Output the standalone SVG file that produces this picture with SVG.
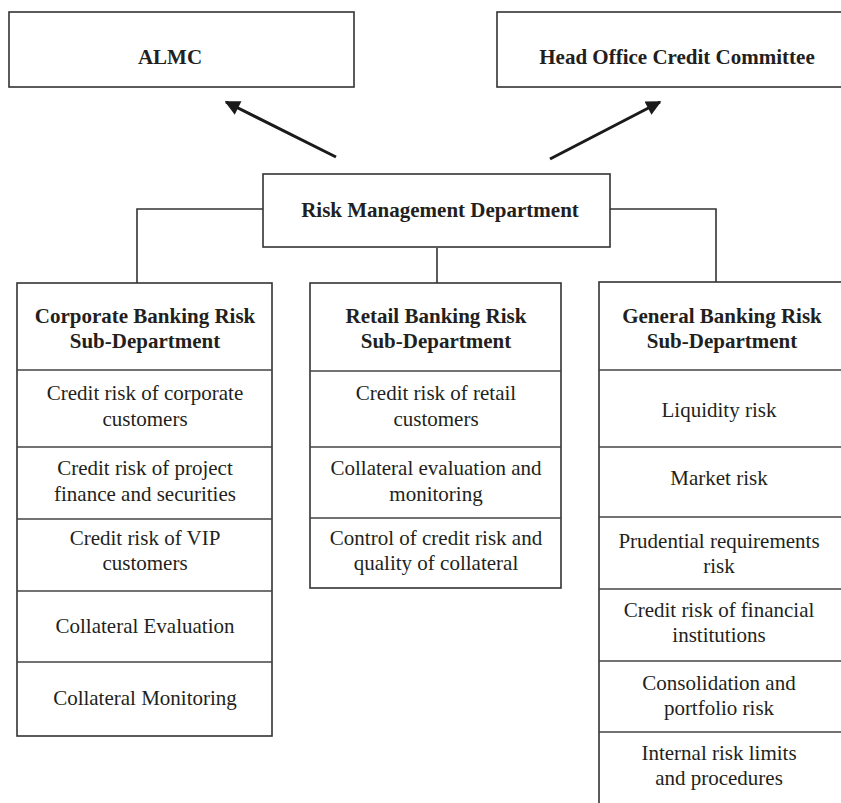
<svg xmlns="http://www.w3.org/2000/svg" width="841" height="803" viewBox="0 0 841 803">
<style>
.box{fill:#fff;stroke:#333;stroke-width:1.6}
.div{stroke:#444;stroke-width:1.5;fill:none}
.conn{stroke:#333;stroke-width:1.6;fill:none}
.arr{stroke:#1a1a1a;stroke-width:3;fill:none}
text{font-family:"Liberation Serif","Times New Roman",serif;font-size:21px;fill:#231f20;text-anchor:middle}
.b{font-weight:bold}
</style>
<defs>
<marker id="ah" viewBox="0 0 10 10" refX="9" refY="5" markerWidth="6" markerHeight="5" markerUnits="strokeWidth" orient="auto">
<path d="M0,0 L10,5 L0,10 z" fill="#1a1a1a"/>
</marker>
</defs>
<rect width="841" height="803" fill="#fff"/>
<g id="connectors">
<line class="arr" x1="336" y1="157" x2="226" y2="102" marker-end="url(#ah)"/>
<line class="arr" x1="550" y1="159" x2="660" y2="102" marker-end="url(#ah)"/>
<polyline class="conn" points="263,209 137,209 137,283"/>
<polyline class="conn" points="610,209 716,209 716,282"/>
<line class="conn" x1="437" y1="248" x2="437" y2="283"/>
</g>
<g id="almc">
<rect class="box" x="9" y="12" width="345" height="75"/>
<text class="b" x="170" y="64">ALMC</text>
</g>
<g id="head-office">
<rect class="box" x="497" y="12" width="360" height="75"/>
<text class="b" x="677" y="64">Head Office Credit Committee</text>
</g>
<g id="risk-management">
<rect class="box" x="263" y="174" width="347" height="73"/>
<text class="b" x="440" y="217">Risk Management Department</text>
</g>
<g id="corporate">
<rect class="box" x="17" y="283" width="255" height="453"/>
<path class="div" d="M17,370H272M17,447H272M17,519H272M17,591H272M17,662H272"/>
<text class="b" x="145" y="323">Corporate Banking Risk</text>
<text class="b" x="145" y="348">Sub-Department</text>
<text x="145" y="400">Credit risk of corporate</text>
<text x="145" y="426">customers</text>
<text x="145" y="475">Credit risk of project</text>
<text x="145" y="501">finance and securities</text>
<text x="145" y="545">Credit risk of VIP</text>
<text x="145" y="570">customers</text>
<text x="145" y="633">Collateral Evaluation</text>
<text x="145" y="705">Collateral Monitoring</text>
</g>
<g id="retail">
<rect class="box" x="310" y="283" width="251" height="305"/>
<path class="div" d="M310,371H561M310,447H561M310,518H561"/>
<text class="b" x="436" y="323">Retail Banking Risk</text>
<text class="b" x="436" y="348">Sub-Department</text>
<text x="436" y="400">Credit risk of retail</text>
<text x="436" y="426">customers</text>
<text x="436" y="475">Collateral evaluation and</text>
<text x="436" y="501">monitoring</text>
<text x="436" y="545">Control of credit risk and</text>
<text x="436" y="570">quality of collateral</text>
</g>
<g id="general">
<rect class="box" x="599" y="282" width="260" height="540"/>
<path class="div" d="M599,370H841M599,447H841M599,517H841M599,589H841M599,661H841M599,732H841"/>
<text class="b" x="722" y="323">General Banking Risk</text>
<text class="b" x="722" y="348">Sub-Department</text>
<text x="719" y="417">Liquidity risk</text>
<text x="719" y="485">Market risk</text>
<text x="719" y="548">Prudential requirements</text>
<text x="719" y="573">risk</text>
<text x="719" y="617">Credit risk of financial</text>
<text x="719" y="642">institutions</text>
<text x="719" y="690">Consolidation and</text>
<text x="719" y="715">portfolio risk</text>
<text x="719" y="760">Internal risk limits</text>
<text x="719" y="785">and procedures</text>
</g>
</svg>
